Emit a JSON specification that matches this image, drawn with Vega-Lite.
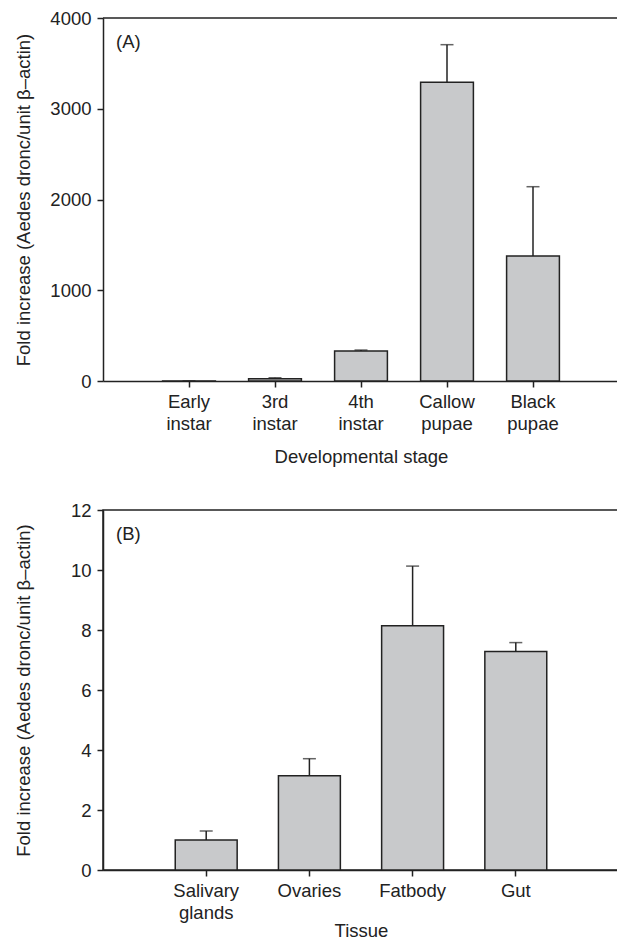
{
  "$schema": "https://vega.github.io/schema/vega-lite/v6.json",
  "padding": {"top": 9, "left": 13, "right": 0, "bottom": 0},
  "background": "white",
  "spacing": 34,
  "config": {
    "font": "Liberation Sans",
    "view": {"stroke": null},
    "axis": {
      "domainColor": "#222",
      "domainWidth": 1.5,
      "tickColor": "#222",
      "tickWidth": 1.5,
      "tickSize": 6,
      "grid": false,
      "labelFontSize": 18.5,
      "labelColor": "#222",
      "titleFontSize": 18.5,
      "titleFontWeight": "normal",
      "titleColor": "#222",
      "labelFont": "Liberation Sans",
      "titleFont": "Liberation Sans"
    },
    "title": {"font": "Liberation Sans"}
  },
  "vconcat": [
    {
      "width": 516,
      "height": 363,
      "title": {"text": "(A)", "anchor": "start", "frame": "group", "dx": 13, "dy": 42, "offset": 0, "fontSize": 18.5, "fontWeight": "normal", "color": "#222"},
      "data": {"values": [
        {"stage": "Early instar", "mean": 0.5, "upper": 1},
        {"stage": "3rd instar", "mean": 25, "upper": 36},
        {"stage": "4th instar", "mean": 330, "upper": 341},
        {"stage": "Callow pupae", "mean": 3291, "upper": 3706},
        {"stage": "Black pupae", "mean": 1377, "upper": 2141}
      ]},
      "encoding": {
        "x": {
          "field": "stage", "type": "nominal", "sort": null,
          "scale": {"paddingInner": 0.386, "paddingOuter": 0.693},
          "axis": {"title": "Developmental stage", "labelAngle": 0, "labelPadding": 5, "labelLineHeight": 22, "labelExpr": "split(datum.label, ' ')", "titlePadding": 15}
        }
      },
      "layer": [
        {
          "data": {"values": [{"top": 4000}]},
          "mark": {"type": "rule", "color": "#222", "strokeWidth": 1.5},
          "encoding": {"x": null, "y": {"field": "top", "type": "quantitative"}}
        },
        {
          "mark": {"type": "rule", "color": "#222", "strokeWidth": 1.5},
          "encoding": {
            "y": {"field": "mean", "type": "quantitative"},
            "y2": {"field": "upper"}
          }
        },
        {
          "mark": {"type": "tick", "color": "#222", "size": 13, "thickness": 1.5},
          "encoding": {"y": {"field": "upper", "type": "quantitative"}}
        },
        {
          "mark": {"type": "bar", "fill": "#c8c9cb", "stroke": "#222", "strokeWidth": 1.5},
          "encoding": {
            "y": {
              "field": "mean", "type": "quantitative",
              "scale": {"domain": [0, 4000], "nice": false},
              "axis": {"title": "Fold increase (Aedes dronc/unit β–actin)", "values": [0, 1000, 2000, 3000, 4000], "format": "d", "labelPadding": 6, "titlePadding": 16}
            }
          }
        }
      ]
    },
    {
      "width": 516,
      "height": 360,
      "view": {"stroke": "#222", "strokeWidth": 1.5},
      "title": {"text": "(B)", "anchor": "start", "frame": "group", "dx": 13, "dy": 42, "offset": 0, "fontSize": 18.5, "fontWeight": "normal", "color": "#222"},
      "data": {"values": [
        {"tissue": "Salivary glands", "mean": 1.0, "upper": 1.3},
        {"tissue": "Ovaries", "mean": 3.14, "upper": 3.71},
        {"tissue": "Fatbody", "mean": 8.14, "upper": 10.13},
        {"tissue": "Gut", "mean": 7.28, "upper": 7.58}
      ]},
      "encoding": {
        "x": {
          "field": "tissue", "type": "nominal", "sort": null,
          "scale": {"paddingInner": 0.4, "paddingOuter": 0.7},
          "axis": {"title": "Tissue", "labelAngle": 0, "labelPadding": 5, "labelLineHeight": 22, "labelExpr": "split(datum.label, ' ')", "titlePadding": 0}
        }
      },
      "layer": [
        {
          "mark": {"type": "rule", "color": "#222", "strokeWidth": 1.5},
          "encoding": {
            "y": {"field": "mean", "type": "quantitative"},
            "y2": {"field": "upper"}
          }
        },
        {
          "mark": {"type": "tick", "color": "#222", "size": 13, "thickness": 1.5},
          "encoding": {"y": {"field": "upper", "type": "quantitative"}}
        },
        {
          "mark": {"type": "bar", "fill": "#c8c9cb", "stroke": "#222", "strokeWidth": 1.5},
          "encoding": {
            "y": {
              "field": "mean", "type": "quantitative",
              "scale": {"domain": [0, 12], "nice": false},
              "axis": {"title": "Fold increase (Aedes dronc/unit β–actin)", "values": [0, 2, 4, 6, 8, 10, 12], "labelPadding": 6, "titlePadding": 37}
            }
          }
        }
      ]
    }
  ]
}
